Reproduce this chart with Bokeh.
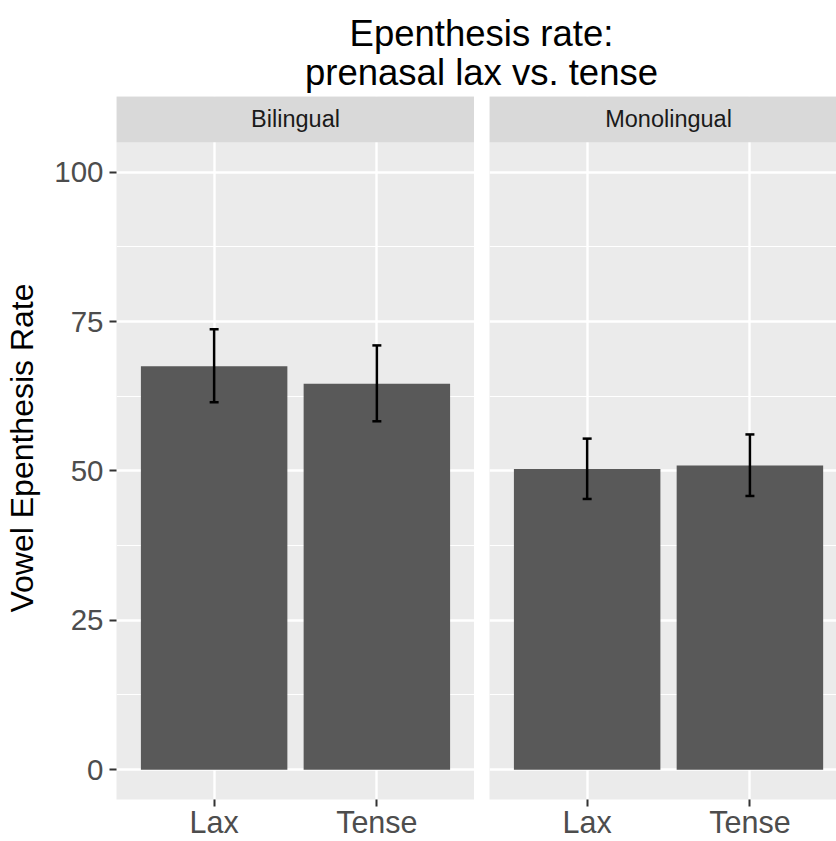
from bokeh.plotting import figure
from bokeh.layouts import column, row
from bokeh.models import Range1d, FixedTicker, Whisker, TeeHead, ColumnDataSource, Label
from bokeh.core.properties import value
from bokeh.embed import file_html
from bokeh.resources import INLINE

# ---------------- data ----------------
groups = ["Bilingual", "Monolingual"]
conditions = ["Lax", "Tense"]
bilingual_rate = [67.5, 64.6]
bilingual_lower = [61.5, 58.3]
bilingual_upper = [73.7, 71.0]
monolingual_rate = [50.3, 50.9]
monolingual_lower = [45.3, 45.8]
monolingual_upper = [55.4, 56.1]
y_ticks = [0, 25, 50, 75, 100]
y_minor = [12.5, 37.5, 62.5, 87.5]
title_lines = ["Epenthesis rate:", "prenasal lax vs. tense"]
y_label = "Vowel Epenthesis Rate"

# ---------------- style ----------------
FONT = "Liberation Sans"
PANEL_BG = "#EBEBEB"
STRIP_BG = "#D9D9D9"
BAR = "#595959"
TICK_COL = "#333333"
TICKLAB_COL = "#4D4D4D"

x_pos = [i + 1 for i in range(len(conditions))]
label_map = {x: c for x, c in zip(x_pos, conditions)}

Y0, Y1 = -5, 105
STRIP_FRAC = 45.7 / 656.3
y_top = Y1 + (Y1 - Y0) * STRIP_FRAC
TITLE_H = 96
PANEL_H = 745


def panel(name, rate, lower, upper, first, width, x_end):
    p = figure(width=width, height=PANEL_H,
               x_range=Range1d(0.4, x_end), y_range=Range1d(Y0, y_top),
               output_backend="svg", toolbar_location=None,
               y_axis_location="left" if first else None,
               min_border_left=116 if first else 15, min_border_right=0,
               min_border_top=0, min_border_bottom=0)
    p.background_fill_color = PANEL_BG
    p.border_fill_color = "white"
    p.outline_line_color = None

    src = ColumnDataSource(dict(x=x_pos, rate=rate, lower=lower, upper=upper))
    p.vbar(x="x", top="rate", bottom=0, width=0.9, source=src,
           fill_color=BAR, line_color=None)
    w = Whisker(source=src, base="x", upper="upper", lower="lower",
                line_color="black", line_width=2.5,
                upper_head=TeeHead(size=9, line_color="black", line_width=2.5),
                lower_head=TeeHead(size=9, line_color="black", line_width=2.5))
    w.level = "annotation"
    p.add_layout(w)

    # facet strip
    p.quad(left=0.4, right=2.6, bottom=Y1, top=y_top,
           fill_color=STRIP_BG, line_color=None)
    p.text(x=[1.5], y=[(Y1 + y_top) / 2], text=[name],
           text_align="center", text_baseline="middle",
           text_font=value(FONT), text_font_size="23.5px", text_color="#1A1A1A")

    # grids
    p.xgrid.ticker = FixedTicker(ticks=x_pos)
    p.xgrid.grid_line_color = "white"
    p.xgrid.grid_line_width = 2.4
    p.ygrid.ticker = FixedTicker(ticks=y_ticks, minor_ticks=y_minor)
    p.ygrid.grid_line_color = "white"
    p.ygrid.grid_line_width = 2.4
    p.ygrid.minor_grid_line_color = "white"
    p.ygrid.minor_grid_line_width = 1.2

    # x axis
    xa = p.xaxis[0]
    xa.ticker = FixedTicker(ticks=x_pos)
    xa.major_label_overrides = label_map
    xa.axis_line_color = None
    xa.major_tick_line_color = TICK_COL
    xa.major_tick_line_width = 2
    xa.major_tick_out = 7
    xa.major_tick_in = 0
    xa.minor_tick_out = 0
    xa.minor_tick_in = 0
    xa.major_label_standoff = -2
    xa.major_label_text_font = FONT
    xa.major_label_text_font_size = "30.5px"
    xa.major_label_text_color = TICKLAB_COL

    if first:
        ya = p.yaxis[0]
        ya.ticker = FixedTicker(ticks=y_ticks, minor_ticks=y_minor)
        ya.axis_line_color = None
        ya.major_tick_line_color = TICK_COL
        ya.major_tick_line_width = 2
        ya.major_tick_out = 7
        ya.major_tick_in = 0
        ya.minor_tick_out = 0
        ya.minor_tick_in = 0
        ya.major_label_standoff = 6
        ya.major_label_text_font = FONT
        ya.major_label_text_font_size = "29.5px"
        ya.major_label_text_color = TICKLAB_COL
        ya.axis_label = y_label
        ya.axis_label_text_font = FONT
        ya.axis_label_text_font_size = "32px"
        ya.axis_label_text_font_style = "normal"
        ya.axis_label_text_color = "black"
        ya.axis_label_standoff = 11
    return p


left = panel(groups[0], bilingual_rate, bilingual_lower, bilingual_upper,
             True, 474, 2.6)
right = panel(groups[1], monolingual_rate, monolingual_lower, monolingual_upper,
              False, 362, 2.532)

# ---------------- overall title ----------------
t = figure(width=836, height=TITLE_H, x_range=Range1d(0, 836),
           y_range=Range1d(TITLE_H, 0),
           output_backend="svg", toolbar_location=None, min_border=0,
           x_axis_location=None, y_axis_location=None)
t.outline_line_color = None
t.grid.visible = False
t.background_fill_color = "white"
t.border_fill_color = "white"
for yy, line in zip([33, 72], title_lines):
    t.add_layout(Label(x=481, y=yy, text=line, text_align="center",
                       text_baseline="alphabetic", text_font=FONT,
                       text_font_size="36.5px", text_color="black"))

layout = column(t, row(left, right))
open("out.html", "w").write(file_html(layout, INLINE))
